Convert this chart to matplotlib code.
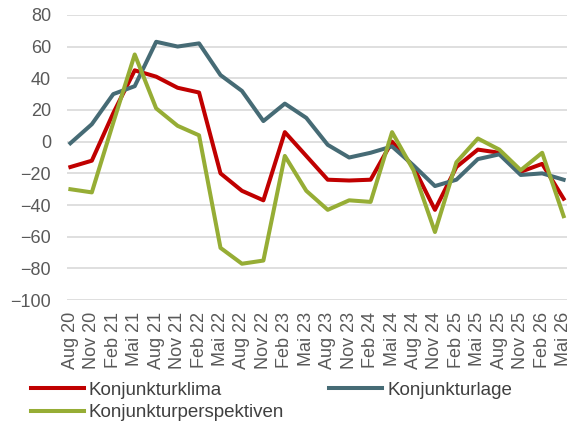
import matplotlib.pyplot as plt

# Quarterly labels
labels = ['Aug 20', 'Nov 20', 'Feb 21', 'Mai 21', 'Aug 21', 'Nov 21', 'Feb 22', 'Mai 22',
          'Aug 22', 'Nov 22', 'Feb 23', 'Mai 23', 'Aug 23', 'Nov 23', 'Feb 24', 'Mai 24',
          'Aug 24', 'Nov 24', 'Feb 25', 'Mai 25', 'Aug 25', 'Nov 25', 'Feb 26', 'Mai 26']

klima = [-16, -12, 18, 45, 41, 34, 31, -20, -31, -37, 6, -9,
         -24, -24.5, -24, 0, -16, -43, -16, -5, -7, -19, -14, -36]
lage = [-1, 11, 30, 35, 63, 60, 62, 42, 32, 13, 24, 15,
        -2, -10, -7, -3, -15, -28, -24, -11, -8, -21, -20, -24]
perspektiven = [-30, -32, 12, 55, 21, 10, 4, -67, -77, -75, -9, -31,
                -43, -37, -38, 6, -18, -57, -13, 2, -5, -18, -7, -47]

plt.rcParams['font.family'] = ['Liberation Sans', 'DejaVu Sans']

fig = plt.figure(figsize=(5.79, 4.24), dpi=100)
ax = fig.add_axes([0.116, 0.292, 0.863, 0.673])

x = range(len(labels))
l1, = ax.plot(x, klima, color='#C00000', lw=2.9, label='Konjunkturklima')
l2, = ax.plot(x, lage, color='#466B75', lw=2.9, label='Konjunkturlage')
l3, = ax.plot(x, perspektiven, color='#96AD35', lw=2.9, label='Konjunkturperspektiven')

ax.set_ylim(-100, 80)
ax.set_yticks(range(-100, 81, 20))
ax.set_xlim(-0.15, 23.15)
ax.set_xticks(list(x))
ax.set_xticklabels(labels, rotation=90)
ax.yaxis.grid(True, color='#D9D9D9', lw=1.2)
ax.set_axisbelow(True)
for s in ax.spines.values():
    s.set_visible(False)
ax.tick_params(length=0, labelsize=13, labelcolor='#595959')
ax.tick_params(axis='x', pad=8.5)
ax.tick_params(axis='y', pad=11.5)

# Order so matplotlib's column-major fill gives row layout of the original
ax.legend(handles=[l1, l3, l2], loc='upper left', bbox_to_anchor=(-0.072, -0.285),
          ncol=2, frameon=False, fontsize=13.5, handlelength=2.8,
          handletextpad=0.28, columnspacing=2.4, labelspacing=0.3,
          labelcolor='#404040', borderaxespad=0, borderpad=0)

fig.savefig('out.png', dpi=100)
